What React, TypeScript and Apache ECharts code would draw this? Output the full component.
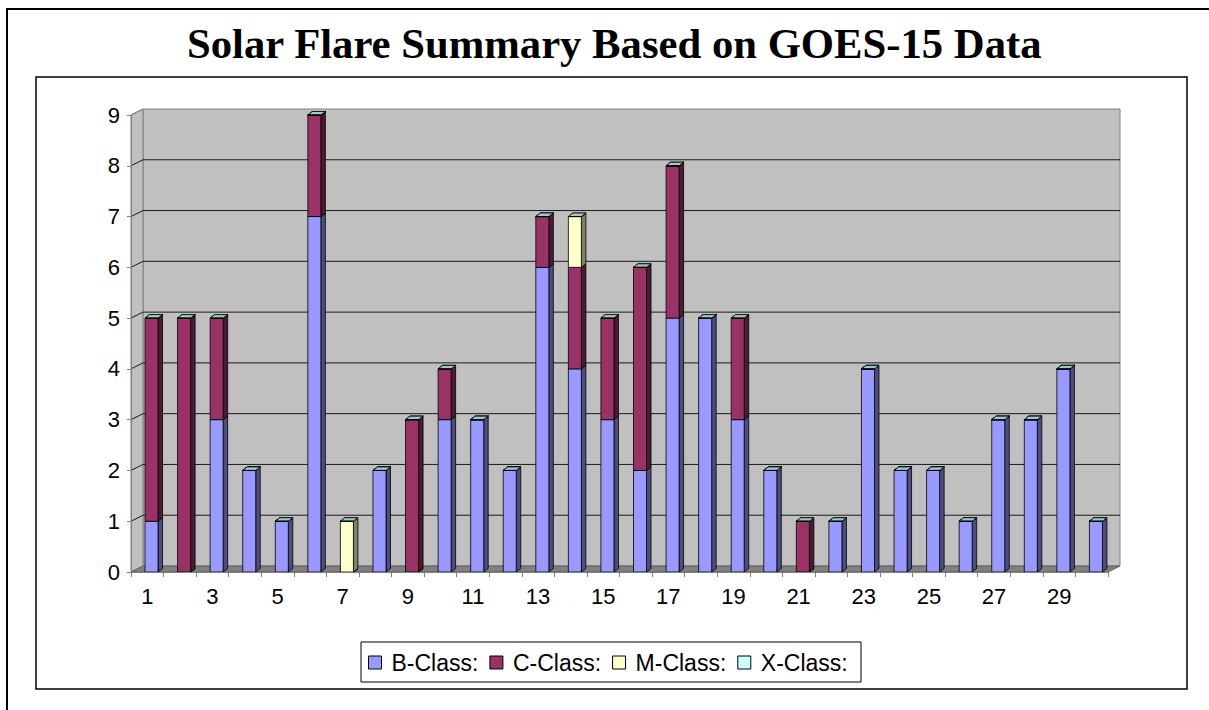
import React, { useEffect, useRef } from "react";
import * as echarts from "echarts";

const days = ["1","2","3","4","5","6","7","8","9","10","11","12","13","14","15","16","17","18","19","20","21","22","23","24","25","26","27","28","29","30"];
const bClass = [1,0,3,2,1,7,0,2,0,3,3,2,6,4,3,2,5,5,3,2,0,1,4,2,2,1,3,3,4,1];
const cClass = [4,5,2,0,0,2,0,0,3,1,0,0,1,2,2,4,3,0,2,0,1,0,0,0,0,0,0,0,0,0];
const mClass = [0,0,0,0,0,0,1,0,0,0,0,0,0,1,0,0,0,0,0,0,0,0,0,0,0,0,0,0,0,0];
const xClass = [0,0,0,0,0,0,0,0,0,0,0,0,0,0,0,0,0,0,0,0,0,0,0,0,0,0,0,0,0,0];
const yTicks = [0,1,2,3,4,5,6,7,8,9];
const seriesNames = ["B-Class:", "C-Class:", "M-Class:", "X-Class:"];
const titleText = "Solar Flare Summary Based on GOES-15 Data";

const FRONT = ["#9999FF", "#993366", "#FFFFCC", "#CCFFFF"];
const SIDE = ["#4D4D80", "#4D1A33", "#808066", "#668080"];
const TOP = ["#B3B3FF", "#B35C85", "#E6E6B8", "#99CCCC"];

function makeRender(k: number) {
  return (params: any, api: any) => {
    const i = api.value(0);
    const base = api.value(1);
    const v = api.value(2);
    const p0 = api.coord([i, base]);
    const p1 = api.coord([i, base + v]);
    const slot = api.size([1, 0])[0];
    const x0 = p0[0] - slot / 2 + slot * 0.43;
    const w = slot * 0.4;
    const x1 = x0 + w;
    const yb = p0[1];
    const yt = p1[1];
    const dx = 4.5, dy = 3.5;
    const st = { stroke: "#000", lineWidth: 0.8, lineJoin: "miter" };
    return {
      type: "group",
      children: [
        { type: "polygon", shape: { points: [[x1, yb], [x1, yt], [x1 + dx, yt - dy], [x1 + dx, yb - dy]] }, style: { fill: SIDE[k], ...st } },
        { type: "polygon", shape: { points: [[x0, yt], [x1, yt], [x1 + dx, yt - dy], [x0 + dx, yt - dy]] }, style: { fill: TOP[k], ...st } },
        { type: "rect", shape: { x: x0, y: yt, width: w, height: yb - yt }, style: { fill: FRONT[k], ...st } },
      ],
    };
  };
}

function renderWalls(params: any, api: any) {
  const cs = params.coordSys;
  const L = cs.x, R = cs.x + cs.width, T = cs.y, B = cs.y + cs.height;
  const DX = 12, DY = -6;
  const children: any[] = [
    { type: "rect", shape: { x: L + DX, y: T + DY, width: cs.width, height: cs.height }, style: { fill: "#C0C0C0", stroke: "#808080", lineWidth: 1 } },
    { type: "polygon", shape: { points: [[L, T], [L + DX, T + DY], [L + DX, B + DY], [L, B]] }, style: { fill: "#C0C0C0", stroke: "#808080", lineWidth: 1 } },
    { type: "polygon", shape: { points: [[L, B], [L + DX, B + DY], [R + DX, B + DY], [R, B]] }, style: { fill: "#808080", stroke: "#606060", lineWidth: 1 } },
  ];
  yTicks.forEach((t) => {
    if (t === 0 || t === yTicks[yTicks.length - 1]) return;
    const y = api.coord([0, t])[1];
    children.push({
      type: "polyline",
      shape: { points: [[L, y], [L + DX, y + DY], [R + DX, y + DY]] },
      style: { stroke: "#1a1a1a", lineWidth: 1, fill: null },
    });
  });
  const yTop = api.coord([0, yTicks[yTicks.length - 1]])[1];
  children.push({ type: "line", shape: { x1: L, y1: yTop, x2: L + DX, y2: yTop + DY }, style: { stroke: "#808080", lineWidth: 1 } });
  return { type: "group", children };
}

export default function App() {
  const ref = useRef<HTMLDivElement>(null);
  useEffect(() => {
    if (!ref.current) return;
    const chart = echarts.init(ref.current, null, { renderer: "svg" });
    const stacks = [bClass, cClass, mClass, xClass];
    const series: any[] = [
      {
        type: "custom",
        name: "walls",
        silent: true,
        clip: false,
        z: 1,
        renderItem: renderWalls,
        encode: { x: 0, y: 1 },
        data: [[0, 0]],
      },
    ];
    stacks.forEach((arr, k) => {
      const data = arr.map((v, i) => {
        let base = 0;
        for (let j = 0; j < k; j++) base += stacks[j][i];
        return [i, base, v];
      });
      series.push({
        type: "custom",
        name: seriesNames[k],
        clip: false,
        z: 2,
        itemStyle: { color: FRONT[k] },
        renderItem: makeRender(k),
        encode: { x: 0, y: 1 },
        data,
      });
    });
    chart.setOption({
      animation: false,
      backgroundColor: "#ffffff",
      title: {
        text: titleText,
        left: 187,
        top: 22,
        padding: 0,
        textStyle: { fontFamily: "Liberation Serif", fontWeight: "bold", fontSize: 42.7, color: "#000" },
      },
      grid: { left: 131, right: 101, top: 115, bottom: 138, containLabel: false },
      xAxis: {
        type: "category",
        data: days,
        boundaryGap: true,
        z: 3,
        axisLine: { show: true, lineStyle: { color: "#808080", width: 1 } },
        axisTick: { show: true, interval: 0, length: 5, lineStyle: { color: "#808080" } },
        axisLabel: { interval: 1, margin: 13, fontSize: 22, fontFamily: "Liberation Sans", color: "#000" },
        splitLine: { show: false },
      },
      yAxis: {
        type: "value",
        min: 0,
        max: 9,
        interval: 1,
        z: 3,
        axisLine: { show: true, lineStyle: { color: "#808080", width: 1 } },
        axisTick: { show: true, length: 4, lineStyle: { color: "#808080" } },
        axisLabel: { margin: 11, fontSize: 22, fontFamily: "Liberation Sans", color: "#000" },
        splitLine: { show: false },
      },
      legend: {
        data: seriesNames.map((n, k) => ({ name: n, itemStyle: { color: FRONT[k], borderColor: "#000", borderWidth: 1 } })),
        icon: "rect",
        left: 368,
        top: 651,
        padding: 0,
        itemWidth: 13,
        itemHeight: 13,
        itemGap: 11,
        selectedMode: false,
        textStyle: { fontSize: 23, fontFamily: "Liberation Sans", color: "#000", padding: [0, 0, 0, 5] },
      },
      graphic: [
        { type: "rect", z: 10, shape: { x: 7, y: 9, width: 1230, height: 730 }, style: { fill: null, stroke: "#000", lineWidth: 2 } },
        { type: "rect", z: 10, shape: { x: 36, y: 77, width: 1151, height: 612 }, style: { fill: null, stroke: "#000", lineWidth: 1.5 } },
        { type: "rect", z: 10, shape: { x: 361, y: 642, width: 500, height: 40 }, style: { fill: null, stroke: "#000", lineWidth: 1 } },
      ],
      series,
    });
    return () => chart.dispose();
  }, []);
  return <div ref={ref} style={{ position: "absolute", left: 0, top: 0, width: 1209, height: 710 }} />;
}
